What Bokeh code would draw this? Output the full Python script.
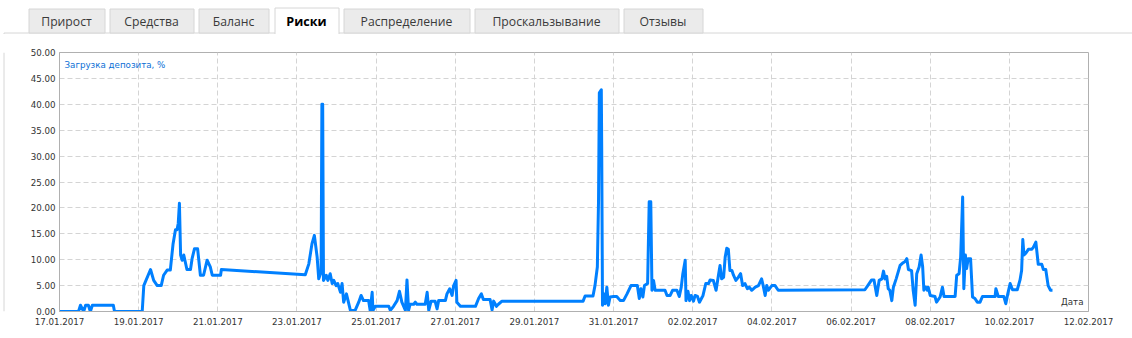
from datetime import datetime, timedelta
from bokeh.plotting import figure
from bokeh.layouts import column, row
from bokeh.models import Range1d, FixedTicker, DatetimeTickFormatter, PrintfTickFormatter, Label
from bokeh.core.properties import value
from bokeh.embed import file_html
from bokeh.resources import INLINE

# ---------------- data ----------------
start_date = "17.01.2017"
end_date = "12.02.2017"
tick_dates = ["17.01.2017", "19.01.2017", "21.01.2017", "23.01.2017", "25.01.2017",
              "27.01.2017", "29.01.2017", "31.01.2017", "02.02.2017", "04.02.2017",
              "06.02.2017", "08.02.2017", "10.02.2017", "12.02.2017"]
y_ticks = [0, 5, 10, 15, 20, 25, 30, 35, 40, 45, 50]

# time of each point, in days after 17.01.2017 00:00
day_offsets = [
    0.00, 0.48, 0.53, 0.61, 0.66, 0.73, 0.78, 0.83, 1.36, 1.39, 2.09, 2.13, 2.30, 2.38, 2.47,
    2.57, 2.63, 2.72, 2.80, 2.87, 2.93, 2.97, 3.00, 3.03, 3.06, 3.10, 3.14, 3.22, 3.31, 3.35,
    3.41, 3.49, 3.56, 3.64, 3.73, 3.81, 3.86, 4.07, 4.09, 6.21, 6.30, 6.38, 6.44, 6.51, 6.55,
    6.61, 6.63, 6.65, 6.67, 6.74, 6.78, 6.84, 6.89, 6.93, 6.99, 7.03, 7.10, 7.14, 7.18, 7.25,
    7.35, 7.47, 7.56, 7.62, 7.68, 7.81, 7.85, 7.90, 7.92, 7.98, 8.32, 8.36, 8.44, 8.53, 8.59,
    8.65, 8.74, 8.78, 8.82, 8.86, 8.95, 8.99, 9.03, 9.24, 9.29, 9.33, 9.39, 9.49, 9.54, 9.58,
    9.75, 9.79, 9.86, 9.92, 9.96, 10.02, 10.04, 10.13, 10.51, 10.59, 10.66, 10.71, 10.88, 10.93, 10.97,
    11.04, 11.09, 11.18, 13.23, 13.28, 13.48, 13.53, 13.59, 13.62, 13.64, 13.69, 13.70, 13.72, 13.76, 13.79,
    13.83, 13.87, 13.91, 14.00, 14.08, 14.17, 14.25, 14.34, 14.44, 14.60, 14.65, 14.69, 14.74, 14.78, 14.86,
    14.90, 14.94, 14.97, 15.01, 15.05, 15.30, 15.35, 15.43, 15.49, 15.60, 15.66, 15.71, 15.75, 15.81, 15.83,
    15.88, 15.92, 15.96, 16.02, 16.06, 16.12, 16.17, 16.26, 16.33, 16.40, 16.44, 16.52, 16.59, 16.65, 16.69,
    16.73, 16.78, 16.82, 16.86, 16.90, 16.94, 16.99, 17.03, 17.09, 17.15, 17.21, 17.26, 17.32, 17.38, 17.43,
    17.49, 17.58, 17.66, 17.74, 17.78, 17.83, 17.87, 17.91, 18.00, 18.08, 18.16, 20.35, 20.44, 20.52, 20.58,
    20.65, 20.71, 20.78, 20.82, 20.86, 20.90, 20.94, 20.98, 21.03, 21.07, 21.14, 21.19, 21.24, 21.31, 21.36,
    21.41, 21.45, 21.53, 21.57, 21.62, 21.66, 21.72, 21.77, 21.81, 21.84, 21.89, 21.93, 21.95, 22.00, 22.12,
    22.16, 22.25, 22.31, 22.35, 22.63, 22.67, 22.73, 22.77, 22.82, 22.85, 22.89, 22.92, 22.96, 23.02, 23.07,
    23.13, 23.19, 23.26, 23.32, 23.64, 23.66, 23.72, 23.86, 23.91, 23.96, 24.02, 24.08, 24.20, 24.27, 24.31,
    24.34, 24.37, 24.42, 24.48, 24.56, 24.60, 24.67, 24.73, 24.82, 24.86, 24.92, 24.98, 25.04, 25.09,
]
load_pct = [
    0.0, 0.0, 1.2, 0.0, 1.2, 1.2, 0.0, 1.2, 1.2, 0.0, 0.0, 5.0, 8.1, 6.0, 5.0,
    5.0, 7.0, 8.0, 8.0, 13.1, 15.8, 15.8, 17.0, 20.9, 10.9, 9.9, 10.9, 8.1, 8.1, 10.2,
    12.1, 12.1, 7.0, 7.0, 9.9, 8.6, 7.0, 7.0, 8.1, 7.1, 9.2, 13.1, 14.7, 10.5, 6.3,
    7.6, 40.0, 40.0, 6.0, 7.0, 6.0, 7.3, 5.4, 6.0, 5.0, 5.4, 3.7, 5.4, 1.8, 3.4,
    0.2, 0.2, 1.8, 3.1, 2.1, 2.1, 0.2, 3.7, 0.2, 1.0, 1.0, 0.2, 1.0, 2.1, 3.9,
    1.8, 0.2, 6.1, 0.2, 1.4, 1.4, 1.8, 1.4, 1.4, 3.7, 0.2, 2.0, 2.0, 0.5, 2.1,
    2.1, 3.4, 4.4, 3.1, 5.0, 6.0, 1.8, 1.0, 1.0, 2.5, 3.4, 2.3, 2.3, 0.3, 2.0,
    1.0, 1.4, 2.0, 2.0, 3.0, 3.0, 5.0, 8.6, 21.5, 42.2, 42.8, 31.8, 1.2, 3.4, 1.5,
    4.7, 1.2, 2.8, 2.9, 2.9, 2.1, 2.1, 3.4, 5.0, 5.0, 2.5, 4.4, 2.8, 5.0, 5.4,
    21.2, 21.2, 4.1, 6.0, 4.1, 4.1, 3.1, 3.1, 4.1, 4.1, 2.9, 4.7, 7.3, 9.9, 2.1,
    3.9, 2.1, 3.1, 2.0, 3.1, 2.9, 1.8, 3.1, 5.4, 5.4, 6.1, 6.0, 4.1, 7.0, 8.9,
    6.3, 6.6, 10.5, 12.2, 12.0, 7.9, 7.9, 7.0, 6.0, 6.6, 7.3, 5.0, 5.4, 4.4, 4.7,
    4.1, 4.7, 5.0, 6.3, 5.0, 3.1, 5.0, 4.1, 5.0, 5.0, 4.1, 4.2, 5.2, 6.1, 6.1,
    3.1, 6.0, 6.3, 7.8, 6.3, 6.8, 4.4, 4.1, 2.1, 4.7, 6.3, 7.6, 8.9, 9.4, 9.6,
    10.2, 8.1, 7.9, 4.1, 1.2, 7.3, 8.6, 10.9, 8.6, 4.1, 4.7, 4.1, 4.7, 3.1, 2.9,
    1.8, 2.8, 4.7, 2.9, 2.9, 7.0, 7.3, 10.5, 22.1, 4.4, 10.9, 8.3, 10.2, 10.2, 2.8,
    2.5, 1.8, 1.8, 2.9, 2.9, 4.4, 2.9, 2.9, 1.5, 3.4, 5.4, 4.2, 4.2, 6.1, 7.9,
    13.9, 10.9, 11.3, 12.0, 12.0, 12.3, 13.4, 9.1, 9.1, 8.1, 8.1, 5.0, 4.1, 4.1,
]

series_label = "Загрузка депозита, %"
x_axis_label = "Дата"
tab_labels = ["Прирост", "Средства", "Баланс", "Риски", "Распределение", "Проскальзывание", "Отзывы"]
active_tab = "Риски"

# ---------------- layout constants ----------------
W, H = 1132, 338
TAB_H = 34
STRIP_W = 5
tab_lefts = [28, 109, 198, 274, 343, 474, 623]
tab_rights = [104, 193, 268, 338, 469, 618, 702]
BORDER = "#d6d6d6"
TICK_FONT = "DejaVu Sans"
TICK_SIZE = "8.7px"

# ---------------- tabs bar ----------------
tf = figure(width=W, height=TAB_H, x_range=Range1d(0, W), y_range=Range1d(TAB_H, 0),
            toolbar_location=None, output_backend="svg", x_axis_type=None, y_axis_type=None,
            min_border=0)
tf.grid.visible = False
tf.outline_line_color = None
tf.background_fill_color = "white"
tf.border_fill_color = "white"

tf.segment(x0=[3.5], y0=[32.5], x1=[W], y1=[32.5], line_color=BORDER, line_width=1)
tf.segment(x0=[3.5], y0=[32.5], x1=[3.5], y1=[TAB_H], line_color=BORDER, line_width=1)

inact = [i for i, t in enumerate(tab_labels) if t != active_tab]
act = tab_labels.index(active_tab)
tf.quad(left=[tab_lefts[i] + 0.5 for i in inact], right=[tab_rights[i] + 0.5 for i in inact],
        top=[8.5] * len(inact), bottom=[32.5] * len(inact),
        fill_color="#ebebeb", line_color=BORDER, line_width=1)
tf.quad(left=[tab_lefts[act] + 0.5], right=[tab_rights[act] + 0.5], top=[7.5], bottom=[TAB_H],
        fill_color="white", line_color=None)
tf.multi_line(xs=[[tab_lefts[act] + 0.5, tab_lefts[act] + 0.5, tab_rights[act] + 0.5, tab_rights[act] + 0.5]],
              ys=[[TAB_H, 7.5, 7.5, TAB_H]], line_color=BORDER, line_width=1)
tf.text(x=[(tab_lefts[i] + tab_rights[i]) / 2 for i in inact], y=[20.5] * len(inact),
        text=[tab_labels[i] for i in inact], text_align="center", text_baseline="middle",
        text_font=value("Open Sans"), text_font_size="12.2px", text_color="#3a3a3a")
tf.text(x=[(tab_lefts[act] + tab_rights[act]) / 2], y=[20.5], text=[tab_labels[act]],
        text_align="center", text_baseline="middle", text_font=value("Open Sans"),
        text_font_size="12.6px", text_font_style="bold", text_color="#000000")

# ---------------- left strip ----------------
sf = figure(width=STRIP_W, height=H - TAB_H, x_range=Range1d(0, STRIP_W), y_range=Range1d(0, 1),
            toolbar_location=None, output_backend="svg", x_axis_type=None, y_axis_type=None,
            min_border=0)
sf.grid.visible = False
sf.outline_line_color = None
sf.segment(x0=[3.5], y0=[0], x1=[3.5], y1=[1], line_color=BORDER, line_width=1)

# ---------------- main chart ----------------
def parse(d):
    return datetime.strptime(d, "%d.%m.%Y")

t0 = parse(start_date)
t1 = parse(end_date)
times = [t0 + timedelta(days=d) for d in day_offsets]
tick_ms = [(parse(d) - datetime(1970, 1, 1)).total_seconds() * 1000 for d in tick_dates]

p = figure(width=W - STRIP_W, height=H - TAB_H, x_axis_type="datetime",
           x_range=Range1d(t0, t1), y_range=Range1d(0, 50),
           toolbar_location=None, output_backend="svg",
           min_border_left=54, min_border_right=44, min_border_top=18, min_border_bottom=27)
p.background_fill_color = "white"
p.border_fill_color = "white"
p.outline_line_color = "#b0b0b0"
p.outline_line_width = 1

p.line(times, load_pct, line_color="#0080ff", line_width=3, line_join="round")

for g in (p.xgrid, p.ygrid):
    g.grid_line_color = "#d4d4d4"
    g.grid_line_dash = "5 3"
    g.grid_line_width = 1

p.xaxis.ticker = FixedTicker(ticks=tick_ms)
fmt = "%d.%m.%Y"
p.xaxis.formatter = DatetimeTickFormatter(milliseconds=fmt, seconds=fmt, minsec=fmt, minutes=fmt,
                                          hourmin=fmt, hours=fmt, days=fmt, months=fmt, years=fmt)
p.yaxis.ticker = FixedTicker(ticks=y_ticks)
p.yaxis.formatter = PrintfTickFormatter(format="%.2f")

for ax in (p.xaxis, p.yaxis):
    ax.axis_line_color = "#b0b0b0"
    ax.major_tick_out = 0
    ax.major_tick_in = 0
    ax.minor_tick_out = 0
    ax.minor_tick_in = 0
    ax.major_label_text_font = TICK_FONT
    ax.major_label_text_font_size = TICK_SIZE
    ax.major_label_text_color = "#333333"
p.yaxis.major_label_standoff = 4
p.xaxis.major_label_standoff = 6

p.add_layout(Label(x=t0, y=50, x_offset=5, y_offset=-7, text=series_label, text_baseline="top",
                   text_font=TICK_FONT, text_font_size=TICK_SIZE, text_color="#0a6fd6"))
p.add_layout(Label(x=t1, y=0, x_offset=-5, y_offset=5, text=x_axis_label, text_align="right",
                   text_baseline="bottom", text_font=TICK_FONT, text_font_size=TICK_SIZE,
                   text_color="#333333"))

layout = column(tf, row(sf, p))
open("out.html", "w").write(file_html(layout, INLINE))
